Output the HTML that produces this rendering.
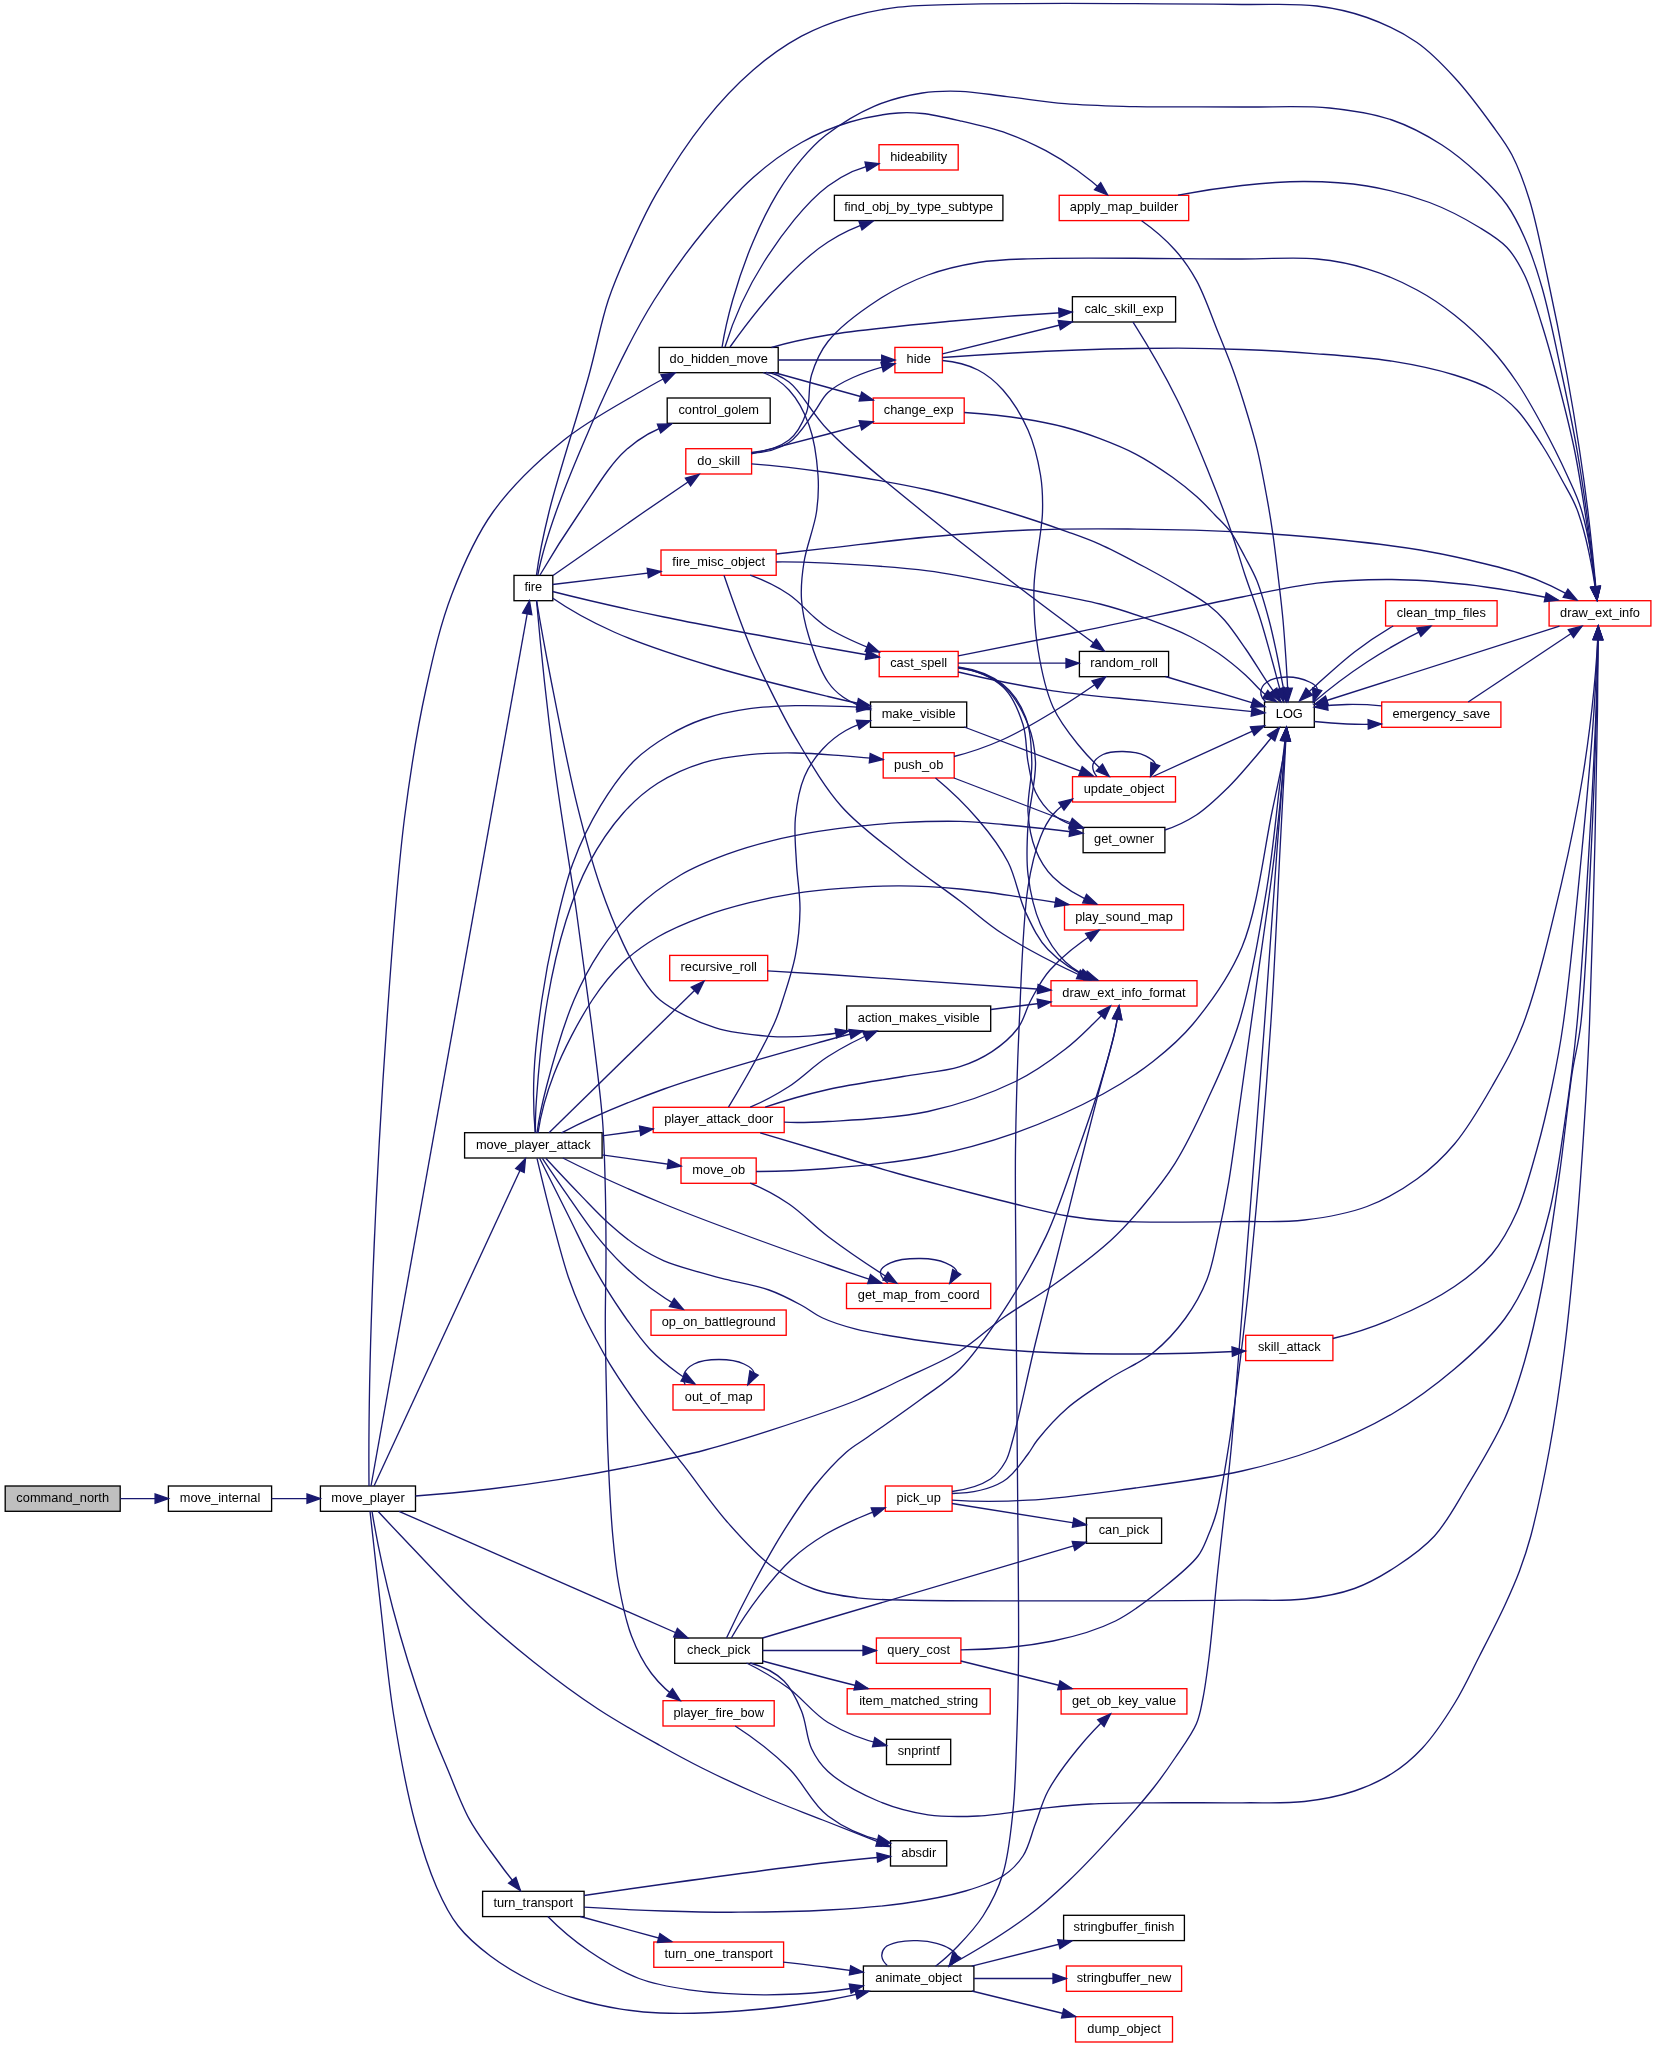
<!DOCTYPE html>
<html><head><meta charset="utf-8"><title>command_north call graph</title>
<style>html,body{margin:0;padding:0;background:#fff}svg{display:block}.e path{fill:none;stroke:#191970;stroke-width:1.33}.e polygon{fill:#191970;stroke:#191970;stroke-width:1.33}.n{will-change:transform}.n rect{stroke-width:1.33}.n text{font-family:"Liberation Sans",sans-serif;font-size:13.6px;fill:#000;text-anchor:middle}</style></head><body>
<svg width="1656" height="2048" viewBox="0 0 1656 2048">
<rect width="1656" height="2048" fill="#fff"/>
<g class="n">
<rect x="5.2" y="1486" width="115" height="25.3" fill="#bfbfbf" stroke="#000"/>
<text x="62.7" y="1501.9" textLength="92.7" lengthAdjust="spacingAndGlyphs">command_north</text>
<rect x="168.4" y="1486" width="103.2" height="25.3" fill="#fff" stroke="#000"/>
<text x="220" y="1501.9" textLength="80.6" lengthAdjust="spacingAndGlyphs">move_internal</text>
<rect x="320.4" y="1486" width="95.1" height="25.3" fill="#fff" stroke="#000"/>
<text x="368" y="1501.9" textLength="73.4" lengthAdjust="spacingAndGlyphs">move_player</text>
<rect x="514" y="575.4" width="38.8" height="25.3" fill="#fff" stroke="#000"/>
<text x="533.3" y="591.2" textLength="17.8" lengthAdjust="spacingAndGlyphs">fire</text>
<rect x="464.6" y="1132.7" width="137.5" height="25.3" fill="#fff" stroke="#000"/>
<text x="533.3" y="1148.5" textLength="114.8" lengthAdjust="spacingAndGlyphs">move_player_attack</text>
<rect x="482.6" y="1891.3" width="101.5" height="25.3" fill="#fff" stroke="#000"/>
<text x="533.3" y="1907.2" textLength="79.8" lengthAdjust="spacingAndGlyphs">turn_transport</text>
<rect x="659.2" y="347.4" width="119" height="25.3" fill="#fff" stroke="#000"/>
<text x="718.7" y="363.2" textLength="98.4" lengthAdjust="spacingAndGlyphs">do_hidden_move</text>
<rect x="667.2" y="398" width="103" height="25.3" fill="#fff" stroke="#000"/>
<text x="718.7" y="413.9" textLength="80.6" lengthAdjust="spacingAndGlyphs">control_golem</text>
<rect x="685.8" y="448.7" width="65.8" height="25.3" fill="#fff" stroke="#f00"/>
<text x="718.7" y="464.5" textLength="42.8" lengthAdjust="spacingAndGlyphs">do_skill</text>
<rect x="661" y="550" width="115.2" height="25.3" fill="#fff" stroke="#f00"/>
<text x="718.7" y="565.9" textLength="92.7" lengthAdjust="spacingAndGlyphs">fire_misc_object</text>
<rect x="669.7" y="955.4" width="98" height="25.3" fill="#fff" stroke="#f00"/>
<text x="718.7" y="971.2" textLength="76.3" lengthAdjust="spacingAndGlyphs">recursive_roll</text>
<rect x="653.2" y="1107.3" width="131" height="25.3" fill="#fff" stroke="#f00"/>
<text x="718.7" y="1123.2" textLength="109.1" lengthAdjust="spacingAndGlyphs">player_attack_door</text>
<rect x="681" y="1158" width="75.2" height="25.3" fill="#fff" stroke="#f00"/>
<text x="718.7" y="1173.9" textLength="52.8" lengthAdjust="spacingAndGlyphs">move_ob</text>
<rect x="651" y="1310" width="135.2" height="25.3" fill="#fff" stroke="#f00"/>
<text x="718.7" y="1325.9" textLength="114.1" lengthAdjust="spacingAndGlyphs">op_on_battleground</text>
<rect x="673" y="1384.7" width="91.2" height="25.3" fill="#fff" stroke="#f00"/>
<text x="718.7" y="1400.5" textLength="67.7" lengthAdjust="spacingAndGlyphs">out_of_map</text>
<rect x="674.7" y="1638" width="88" height="25.3" fill="#fff" stroke="#000"/>
<text x="718.7" y="1653.9" textLength="63.4" lengthAdjust="spacingAndGlyphs">check_pick</text>
<rect x="663" y="1700.7" width="111.2" height="25.3" fill="#fff" stroke="#f00"/>
<text x="718.7" y="1716.5" textLength="90.5" lengthAdjust="spacingAndGlyphs">player_fire_bow</text>
<rect x="653.8" y="1942" width="129.8" height="25.3" fill="#fff" stroke="#f00"/>
<text x="718.7" y="1957.9" textLength="108.4" lengthAdjust="spacingAndGlyphs">turn_one_transport</text>
<rect x="879" y="144.7" width="79.2" height="25.3" fill="#fff" stroke="#f00"/>
<text x="918.7" y="160.5" textLength="57" lengthAdjust="spacingAndGlyphs">hideability</text>
<rect x="834.4" y="195.3" width="168.5" height="25.3" fill="#fff" stroke="#000"/>
<text x="918.7" y="211.2" textLength="149" lengthAdjust="spacingAndGlyphs">find_obj_by_type_subtype</text>
<rect x="894.9" y="347.4" width="47.5" height="25.3" fill="#fff" stroke="#f00"/>
<text x="918.7" y="363.2" textLength="24.2" lengthAdjust="spacingAndGlyphs">hide</text>
<rect x="873.2" y="398" width="91" height="25.3" fill="#fff" stroke="#f00"/>
<text x="918.7" y="413.9" textLength="69.9" lengthAdjust="spacingAndGlyphs">change_exp</text>
<rect x="879.2" y="651.4" width="79" height="25.3" fill="#fff" stroke="#f00"/>
<text x="918.7" y="667.2" textLength="57" lengthAdjust="spacingAndGlyphs">cast_spell</text>
<rect x="870.5" y="702" width="96.2" height="25.3" fill="#fff" stroke="#000"/>
<text x="918.7" y="717.9" textLength="74.1" lengthAdjust="spacingAndGlyphs">make_visible</text>
<rect x="883.2" y="752.7" width="71" height="25.3" fill="#fff" stroke="#f00"/>
<text x="918.7" y="768.5" textLength="49.2" lengthAdjust="spacingAndGlyphs">push_ob</text>
<rect x="846.7" y="1006" width="144" height="25.3" fill="#fff" stroke="#000"/>
<text x="918.7" y="1021.9" textLength="121.9" lengthAdjust="spacingAndGlyphs">action_makes_visible</text>
<rect x="846.5" y="1283.3" width="144.2" height="25.3" fill="#fff" stroke="#f00"/>
<text x="918.7" y="1299.2" textLength="121.9" lengthAdjust="spacingAndGlyphs">get_map_from_coord</text>
<rect x="885.3" y="1486" width="66.8" height="25.3" fill="#fff" stroke="#f00"/>
<text x="918.7" y="1501.9" textLength="44.2" lengthAdjust="spacingAndGlyphs">pick_up</text>
<rect x="876.4" y="1638" width="84.5" height="25.3" fill="#fff" stroke="#f00"/>
<text x="918.7" y="1653.9" textLength="62.7" lengthAdjust="spacingAndGlyphs">query_cost</text>
<rect x="847.2" y="1688.7" width="143" height="25.3" fill="#fff" stroke="#f00"/>
<text x="918.7" y="1704.5" textLength="119.1" lengthAdjust="spacingAndGlyphs">item_matched_string</text>
<rect x="886.5" y="1739.3" width="64.2" height="25.3" fill="#fff" stroke="#000"/>
<text x="918.7" y="1755.2" textLength="42.1" lengthAdjust="spacingAndGlyphs">snprintf</text>
<rect x="890.5" y="1840.7" width="56.2" height="25.3" fill="#fff" stroke="#000"/>
<text x="918.7" y="1856.5" textLength="34.9" lengthAdjust="spacingAndGlyphs">absdir</text>
<rect x="863.4" y="1966" width="110.5" height="25.3" fill="#fff" stroke="#000"/>
<text x="918.7" y="1981.9" textLength="87" lengthAdjust="spacingAndGlyphs">animate_object</text>
<rect x="1059.2" y="195.3" width="129.5" height="25.3" fill="#fff" stroke="#f00"/>
<text x="1124" y="211.2" textLength="108.4" lengthAdjust="spacingAndGlyphs">apply_map_builder</text>
<rect x="1072.4" y="296.7" width="103.2" height="25.3" fill="#fff" stroke="#000"/>
<text x="1124" y="312.5" textLength="79.1" lengthAdjust="spacingAndGlyphs">calc_skill_exp</text>
<rect x="1079.4" y="651.4" width="89.2" height="25.3" fill="#fff" stroke="#000"/>
<text x="1124" y="667.2" textLength="67.7" lengthAdjust="spacingAndGlyphs">random_roll</text>
<rect x="1072.5" y="776.7" width="103" height="25.3" fill="#fff" stroke="#f00"/>
<text x="1124" y="792.5" textLength="80.6" lengthAdjust="spacingAndGlyphs">update_object</text>
<rect x="1083.1" y="827.4" width="81.8" height="25.3" fill="#fff" stroke="#000"/>
<text x="1124" y="843.2" textLength="59.9" lengthAdjust="spacingAndGlyphs">get_owner</text>
<rect x="1064.5" y="904.7" width="119" height="25.3" fill="#fff" stroke="#f00"/>
<text x="1124" y="920.5" textLength="97.7" lengthAdjust="spacingAndGlyphs">play_sound_map</text>
<rect x="1051" y="980.7" width="146" height="25.3" fill="#fff" stroke="#f00"/>
<text x="1124" y="996.5" textLength="123.3" lengthAdjust="spacingAndGlyphs">draw_ext_info_format</text>
<rect x="1086.4" y="1518" width="75.2" height="25.3" fill="#fff" stroke="#000"/>
<text x="1124" y="1533.9" textLength="50.6" lengthAdjust="spacingAndGlyphs">can_pick</text>
<rect x="1061.1" y="1688.7" width="125.8" height="25.3" fill="#fff" stroke="#f00"/>
<text x="1124" y="1704.5" textLength="104.1" lengthAdjust="spacingAndGlyphs">get_ob_key_value</text>
<rect x="1063.6" y="1915.3" width="120.8" height="25.3" fill="#fff" stroke="#000"/>
<text x="1124" y="1931.2" textLength="101" lengthAdjust="spacingAndGlyphs">stringbuffer_finish</text>
<rect x="1066.4" y="1966" width="115.2" height="25.3" fill="#fff" stroke="#f00"/>
<text x="1124" y="1981.9" textLength="94.6" lengthAdjust="spacingAndGlyphs">stringbuffer_new</text>
<rect x="1075.5" y="2016.7" width="97" height="25.3" fill="#fff" stroke="#f00"/>
<text x="1124" y="2032.5" textLength="73.4" lengthAdjust="spacingAndGlyphs">dump_object</text>
<rect x="1264.5" y="702" width="49.8" height="25.3" fill="#fff" stroke="#000"/>
<text x="1289.3" y="717.9" textLength="27.1" lengthAdjust="spacingAndGlyphs">LOG</text>
<rect x="1245.7" y="1335.3" width="87.2" height="25.3" fill="#fff" stroke="#f00"/>
<text x="1289.3" y="1351.2" textLength="62.7" lengthAdjust="spacingAndGlyphs">skill_attack</text>
<rect x="1385.6" y="600.7" width="111.5" height="25.3" fill="#fff" stroke="#f00"/>
<text x="1441.3" y="616.5" textLength="89.1" lengthAdjust="spacingAndGlyphs">clean_tmp_files</text>
<rect x="1381.7" y="702" width="119.2" height="25.3" fill="#fff" stroke="#f00"/>
<text x="1441.3" y="717.9" textLength="97.7" lengthAdjust="spacingAndGlyphs">emergency_save</text>
<rect x="1549.1" y="600.7" width="101.8" height="25.3" fill="#fff" stroke="#f00"/>
<text x="1600" y="616.5" textLength="79.9" lengthAdjust="spacingAndGlyphs">draw_ext_info</text>
</g>
<g class="e">
<path d="M120.2 1498.6L168.4 1498.6"/><polygon points="168.4,1498.6 155.1,1503.3 155.1,1493.9"/>
<path d="M271.6 1498.6L320.3 1498.6"/><polygon points="320.3,1498.6 307,1503.3 307,1493.9"/>
<path d="M369 1486C368.5 1431.3 369.5 1369.3 372 1300C375.1 1211.9 382.1 1087.5 388.4 1000C393.3 931.7 397.5 873.3 404.5 818C410.5 771.2 417.3 728.5 426 689C433.5 654.7 440.5 624 452 594C463.1 565.1 475 537.1 493 512C511.9 485.6 538.7 460.4 564 440C587.9 420.8 619.4 404.1 640 392C653.7 383.9 665.4 377.6 675 373"/><polygon points="675,373 665.3,383.2 661,374.9"/>
<path d="M371 1486L529.5 600.8"/><polygon points="529.5,600.8 531.8,614.7 522.6,613"/>
<path d="M374 1486L525.5 1158.5"/><polygon points="525.5,1158.5 524.2,1172.5 515.7,1168.6"/>
<path d="M415.4 1496C440.7 1494.2 465.6 1491.8 490 1489C513.7 1486.2 535.9 1483.1 560 1479.3C585.8 1475.2 614.7 1470 640 1464.8C662.9 1460.1 683.6 1455.7 705.2 1450C727 1444.2 747.2 1437.9 770.4 1430.4C797.4 1421.6 833.2 1409.8 857.4 1400C875.2 1392.8 887 1386.6 903 1379C921 1370.4 942.8 1361.7 960 1351C975.9 1341.1 988 1328.7 1003 1318C1018.7 1306.9 1035.5 1297.8 1052.4 1285.8C1071.2 1272.4 1094.3 1255.3 1110.4 1240.7C1123.3 1229 1132.3 1218.7 1142.7 1206.3C1153.8 1193 1164.9 1179.4 1175 1163.3C1186.5 1144.9 1196.8 1123.3 1207 1101C1218.3 1076.3 1230.2 1052 1239.4 1021.5C1251.1 983 1260.1 928.6 1267 887C1272.9 851.3 1276 816 1279.5 787C1282.2 764.6 1284.5 744.8 1286.5 727.5"/><polygon points="1286.5,727.5 1289.6,741.2 1280.4,740.2"/>
<path d="M399 1511.3L687.8 1638"/><polygon points="687.8,1638 673.7,1636.9 677.4,1628.4"/>
<path d="M378 1511.3C383.2 1517 390.5 1524.8 400 1534.7C416.9 1552.4 447.6 1585.9 471 1608C492 1627.8 512.1 1644.8 533.4 1661.7C554.4 1678.4 576.3 1694.7 598 1709C618.5 1722.5 641.2 1735 660 1745.5C675.3 1754.1 686.6 1760.3 702 1768C720.2 1777.1 742.1 1787.3 762.3 1796C782.3 1804.6 802 1811.8 822.7 1820C844.5 1828.6 867 1837.5 890 1846.5"/><polygon points="890,1846.5 875.9,1846 879.3,1837.3"/>
<path d="M372 1511.3C377.2 1542.9 384.1 1575.1 392.7 1608C401.9 1643.1 415.5 1686 426 1715.5C433.5 1736.6 440.2 1751.6 447.5 1769C454.6 1785.9 461.2 1804.1 469 1818.6C475.6 1830.9 482.5 1839.8 490.4 1851C499.4 1863.7 509.4 1876.9 520.5 1890.6"/><polygon points="520.5,1890.6 508.6,1883.1 515.9,1877.3"/>
<path d="M370 1511.3C373.4 1542.7 377 1574.9 380.8 1608C384.8 1642.9 388 1679.8 393.7 1715.5C399.4 1751.4 406.9 1792 415.2 1823C421.7 1847.4 428.6 1869 436.7 1887.4C443.2 1902.3 449.2 1914.6 458.2 1926C467.1 1937.4 478.4 1946.9 490.4 1956C503.3 1965.7 518.8 1974.7 533.4 1982C547.4 1989 561.9 1994.5 576.4 1999C590.6 2003.4 605.2 2006.5 619.4 2008.8C633.1 2011.1 644.2 2012.4 660 2013C682 2013.9 711.9 2013 739 2011C767.8 2008.9 804.1 2004 828 2000C844.4 1997.2 858 1994.3 869 1991.2"/><polygon points="869,1991.2 857.2,1999 855,1990"/>
<path d="M536.5 575.2C538.7 558 542.9 536.9 549 512C558.1 474.9 578.3 413.9 589 375C596.9 346.3 600.6 323.2 608.3 300C615.3 279 624.1 259.9 632.5 241.5C640.3 224.5 646.5 210.6 656.6 193.2C669.4 171.1 687.9 142.2 705 120.8C720.3 101.6 736.4 84.5 753.2 70C768.6 56.7 784.9 45.2 801.5 36.2C817.2 27.8 833.6 21.8 849.9 16.9C865.8 12.2 881 9.3 898.2 7.2C917.4 4.8 931.9 4.9 960 4.3C1019.9 2.9 1178 3.8 1242 4.5C1275 4.8 1294.7 3.2 1317 6C1335.5 8.3 1350.7 11.6 1367 17.5C1384 23.6 1402.2 32.2 1417 42.5C1431.2 52.4 1442.5 64.4 1454.5 77.5C1467.6 91.7 1481.7 110.8 1492 125C1500 136 1506.1 143.6 1512 155C1518.8 168.2 1524.2 182.9 1529.5 200C1536.2 221.6 1541.2 248.2 1547 275C1553.7 305.9 1561.3 344 1567 375C1571.9 401.8 1575.9 426.2 1579.5 450C1582.8 471.6 1585.3 489.5 1588 512C1591.2 538.7 1594.2 568.1 1597 600"/><polygon points="1597,600 1591.2,587.2 1600.5,586.3"/>
<path d="M537.8 575.2C541.1 557.9 547.2 536.8 556 512C569.2 474.7 595.6 413.5 614 375C627.9 345.9 639.1 324.1 654.2 300C669.4 275.6 687.6 250.7 705 229.5C720.7 210.3 736.4 192.4 753.2 177.5C768.6 163.8 784.8 151.9 801.5 142.5C817.1 133.7 833.5 126.9 849.9 122C865.8 117.2 884.8 114.1 898.2 113C907.6 112.2 913.4 112.6 922.3 113.5C933.5 114.7 946.8 117.8 960 120.8C974.9 124.2 992.3 128.1 1007 133.3C1020.8 138.2 1033.8 144.3 1045.8 150.7C1056.9 156.6 1066.6 162.8 1076.7 170C1087.2 177.5 1097.5 185.8 1107.6 195"/><polygon points="1107.6,195 1094.5,189.8 1100.7,182.7"/>
<path d="M540 575C552.5 553.7 565.8 532.7 580 512C594.4 491 609 465.1 626 450C640 437.6 655.2 428.9 671.5 424"/><polygon points="671.5,424 660.7,433 657.4,424.2"/>
<path d="M553 575.5C587.1 551.5 617.4 530.3 644 512C664.6 497.8 682.9 485.3 699 474.5"/><polygon points="699,474.5 690.6,485.8 685.4,478.1"/>
<path d="M552.5 584.5L661 571.5"/><polygon points="661,571.5 648.4,577.7 647.2,568.4"/>
<path d="M552.5 591.5C586 600 623.2 608.5 664 617C713.3 627.3 788.8 640.8 828 648C849.9 652 867 655 879.2 657"/><polygon points="879.2,657 865.4,659.4 866.9,650.2"/>
<path d="M552.5 598C570 610.2 590.5 621.5 614 632C642.8 644.9 679.3 656.5 714 667C750.5 678.1 799.1 689.6 828 696.5C845.5 700.7 859.7 703.8 870.5 705.8"/><polygon points="870.5,705.8 856.5,707.7 858.4,698.6"/>
<path d="M536.5 600.2C541.3 655.3 547.2 709.2 554 762C560.6 813 569.9 865.6 576.5 912C582.2 952 587 988.1 591.5 1024C595.6 1057.2 600.2 1090.7 602.5 1120C604.4 1144.7 604.7 1165.6 605.3 1188.4C605.9 1211.2 606 1233.9 606 1256.7C606 1279.5 605.2 1301.7 605.3 1325C605.4 1349.4 606.1 1377.7 606.6 1400C607 1418.1 607 1430.3 607.8 1449C608.8 1473.9 610.5 1511 612.8 1536C614.5 1555 615.9 1569.4 619 1586C622.1 1602.8 625.7 1620.9 631.5 1636C636.8 1649.8 643.2 1662.6 651.5 1673.5C659.5 1684 669.1 1693 680.2 1700.5"/><polygon points="680.2,1700.5 666.8,1696.2 672.5,1688.7"/>
<path d="M536.5 600.2C540.4 623.8 545.2 650.4 551 680C558.3 717.3 568.2 769 577.4 806.2C584.8 836.1 592 862.2 600.3 886.5C607.5 907.4 615.9 928 623.3 943.9C628.8 955.6 633.2 964.3 639.3 973.7C645.4 983 650.3 992.1 660 1000C673.2 1010.8 696.3 1021.7 715 1027.7C732.6 1033.4 752 1035 769 1036.3C784.1 1037.4 798.2 1036.9 812 1035.9C824.8 1035 837.2 1033.4 849 1031"/><polygon points="849,1031 836.7,1037.9 835.1,1028.7"/>
<path d="M535.2 1132.8C533.6 1114.3 533.1 1094.7 534 1074C535 1050.7 538.3 1024 541.8 1000C545.2 976.9 549.3 954.9 554.4 932.4C559.6 909.5 564.8 885.1 572.8 863.6C580.3 843.2 589.6 823.8 600.3 806.2C610.4 789.5 622.2 772.6 634.7 760.3C645.5 749.7 657.4 742 669.2 735C680.4 728.4 691.1 723.3 703.6 719C717.6 714.2 734.1 710.9 749.5 708.7C764.7 706.5 780.1 706.1 795.4 705.7C810.7 705.3 827.7 705.9 841.3 706.4C852.1 706.8 861.9 707.3 870.5 708"/><polygon points="870.5,708 856.9,711.8 857.5,702.5"/>
<path d="M535.5 1132.8C535.2 1124.4 535.5 1113.2 536.5 1099C538.2 1074.6 542.2 1031 547.5 1000C552.3 972 558.4 945 565.9 921C572.5 900.1 579.2 881.6 588.8 863.6C598.4 845.6 610.8 827 623.3 813C634 801 644.7 791.6 657.7 783.3C671.3 774.6 688 767.4 703.6 762.6C718.6 758 734.1 756.2 749.5 754.6C764.7 753 780.1 752.8 795.4 753C810.7 753.2 826.4 754.6 841.3 755.7C855.5 756.8 869.4 758 883 759.5"/><polygon points="883,759.5 869.3,762.8 870.2,753.5"/>
<path d="M537 1132.8C538.7 1119.6 541.9 1104.2 546.5 1086.5C552.9 1062 563.7 1024.4 574 1000C582.1 980.9 590.1 966 600.3 950.8C610.3 935.9 621.6 922 634.7 909.5C648.2 896.6 664.8 884.3 680.6 875C695.4 866.2 711 860.2 726.5 854.4C741.6 848.8 757 844.4 772.4 840.6C787.6 836.8 803 833.9 818.3 831.4C833.6 828.9 849.8 827.2 864.2 825.7C876.9 824.4 886.5 823.4 900 822.7C917.4 821.8 941.7 820.9 960 821.4C975.5 821.8 986.5 823 1003 824.5C1025.6 826.5 1052.2 829.5 1083 833.2"/><polygon points="1083,833.2 1069.2,836.3 1070.4,827"/>
<path d="M538 1132.8C540.8 1113.9 546.1 1094.3 554 1074C563.2 1050.3 579.1 1020 592.3 1000C602.4 984.7 612 972.9 623.3 962.2C633.9 952.2 645 944.4 657.7 937C671.5 928.9 688.1 922.1 703.6 916.3C718.7 910.7 734.1 906.4 749.5 902.6C764.7 898.8 780 895.8 795.4 893.4C810.6 891 825 889.6 841.3 888.4C859.6 887 880.3 885.7 900 885.8C919.9 885.9 939.7 887.1 960 889C981.2 891 1005.1 894.9 1024.5 897.7C1040.6 900 1055.2 902.3 1068.5 904.5"/><polygon points="1068.5,904.5 1054.6,907 1056.1,897.8"/>
<path d="M549 1132.8L704 981.2"/><polygon points="704,981.2 697.8,993.9 691.2,987.2"/>
<path d="M561.5 1132.8C591.2 1117.5 625.4 1103 664 1089C711.8 1071.7 793.4 1049.6 828 1040C843.9 1035.6 855.6 1032.6 863 1031"/><polygon points="863,1031 851.1,1038.6 849,1029.5"/>
<path d="M602 1135.8L653.2 1129"/><polygon points="653.2,1129 640.7,1135.4 639.5,1126.1"/>
<path d="M602 1154.8L681 1166"/><polygon points="681,1166 667.2,1168.7 668.5,1159.5"/>
<path d="M562.8 1158C592.1 1172.9 625.9 1188.3 664 1204C711.8 1223.7 788.1 1250.8 828 1265C850.7 1273.1 868.6 1279.2 881.8 1283.2"/><polygon points="881.8,1283.2 867.7,1283.6 870.5,1274.7"/>
<path d="M545.8 1158.3C558.6 1172.2 570.7 1185 582 1196.6C591.7 1206.6 600 1215.6 609.4 1224C618.3 1232 627.3 1239.5 636.7 1245.8C645.6 1251.7 654 1256.5 664 1260.8C675 1265.5 688.9 1269.1 700 1272.4C709.3 1275.2 716.2 1276.9 726 1279.4C738.5 1282.6 755.9 1285.4 769 1290C780.7 1294.1 791.5 1299.9 801 1305C809.1 1309.3 814.5 1314.2 822.7 1318C832.2 1322.4 841.9 1325.5 855 1328.8C874.3 1333.7 901.7 1337.9 928 1341.5C958.6 1345.7 994.6 1349.4 1028 1351.5C1061.3 1353.6 1093.3 1354 1128 1354C1165.6 1354 1204.8 1353 1245.5 1351"/><polygon points="1245.5,1351 1232.4,1356.3 1232,1346.9"/>
<path d="M542.4 1158.3C550.9 1171.1 559.5 1183.9 568.4 1196.6C577.3 1209.4 586.3 1223.1 595.7 1234.8C604.5 1245.7 613.6 1255.9 623 1265C631.8 1273.5 640.6 1280.8 650.4 1288C660.6 1295.6 671.6 1302.7 683.2 1309.3"/><polygon points="683.2,1309.3 669.4,1306.5 674.2,1298.5"/>
<path d="M539.6 1158.3C549.3 1177.7 558.9 1196.8 568.4 1215.7C577.6 1234.1 586.2 1253.4 595.7 1270.4C604.4 1286 613.6 1300.4 623 1314C631.8 1326.7 640.7 1339.5 650.4 1349.7C659.1 1358.8 669.5 1366.9 677.7 1373C683.9 1377.6 689.6 1381.2 694.8 1383.8"/><polygon points="694.8,1383.8 681,1381 685.8,1373"/>
<path d="M537 1158.3C543.1 1184.4 549 1208.1 554.7 1229.4C559.4 1247 563.5 1262.7 568.4 1277.2C572.7 1289.7 577.2 1300.7 582 1311.4C586.4 1321.1 591 1329.9 595.7 1338.7C600.2 1347.2 603.7 1354 609.4 1363.3C617.4 1376.3 628.6 1392.9 640 1408.7C653 1426.7 669 1446.4 683.5 1465.2C698 1484 711.9 1504.5 727 1521.7C741 1537.6 755.1 1553.7 770.4 1565.2C784.2 1575.5 799 1583.6 813.9 1589C828 1594.2 842.8 1596 857.4 1597.8C871.8 1599.6 879.5 1599.5 900.9 1600C960.7 1601.5 1173.8 1600.9 1242 1600.2C1271.2 1600 1284.9 1601.2 1304.5 1599C1322.2 1597 1338.9 1594.1 1354.5 1588.5C1369.7 1583 1383.7 1574.8 1397 1566C1410.3 1557.3 1423.3 1548.3 1434.5 1536C1446.9 1522.3 1456.1 1504.5 1467 1486.5C1479.4 1466 1494.6 1441 1504.5 1419C1513.3 1399.5 1518.5 1382.1 1524.5 1361.5C1531.2 1338.3 1536.6 1314.1 1542 1286.5C1548.5 1252.9 1554.4 1210.4 1559.5 1174C1564.3 1139.7 1567.9 1101.6 1572 1074C1574.9 1054.4 1578.2 1046 1580.8 1024C1585.7 982 1589 895.4 1591.7 839.4C1594 792.6 1595.4 748.8 1596.5 710.4C1597.4 679.4 1598 651.3 1598.2 626.2"/><polygon points="1598.2,626.2 1602.8,639.6 1593.4,639.5"/>
<path d="M584 1895.5C692 1879.8 773.3 1868.8 828 1862.5C855.6 1859.3 876.5 1857.3 890.5 1856.5"/><polygon points="890.5,1856.5 877.6,1862.1 876.9,1852.8"/>
<path d="M584 1907.2C611.1 1908.9 637.8 1910.2 664 1911C689.4 1911.8 712.9 1912.4 739 1912.2C767.4 1912.1 799.6 1911.6 828 1910C854.1 1908.5 879.2 1906.9 903 1903.5C924.9 1900.4 947.5 1896.3 965.5 1891C979.8 1886.7 993 1882.6 1003 1876C1011.4 1870.5 1017.7 1864.1 1023 1856C1028.9 1847 1031.3 1834.3 1035.5 1823.5C1039.7 1812.7 1042 1802.2 1048 1791C1055.3 1777.3 1067.3 1761.6 1078 1748.5C1088.2 1736 1099 1724.5 1110.5 1714"/><polygon points="1110.5,1714 1104.1,1726.6 1097.7,1719.8"/>
<path d="M580.2 1916.5L671.5 1941.5"/><polygon points="671.5,1941.5 657.4,1942.5 659.9,1933.5"/>
<path d="M547.8 1916.5C560.3 1929.3 574.1 1940.8 589 1951C604.4 1961.5 621.9 1972 639 1978.5C655.2 1984.7 670.5 1987.1 689 1989.8C711.4 1993 740 1994.6 764 1994.8C786.2 1994.9 809.9 1993.4 828 1991.5C841.5 1990.1 853.3 1988.3 863.2 1986"/><polygon points="863.2,1986 851.1,1993.1 849.3,1984"/>
<path d="M722 347.5C724.4 332.3 728 316.5 732.7 300C738 281.4 745.4 259.8 753.2 241.5C760.5 224.4 768.7 207.6 777.4 193.2C785 180.6 793 169.4 801.5 159.4C809.2 150.3 815.7 143.1 825.7 135.3C838.6 125.3 857.4 113.4 874 106.3C889.7 99.6 907.1 95.4 922.3 93C935.5 90.9 946.8 90.9 960 91.3C974.8 91.8 990.5 94.7 1007 96.6C1025.3 98.7 1045.6 102 1065 103.6C1084.3 105.2 1100.2 105.7 1123 106.3C1155.6 107.2 1205.4 106.7 1242 107C1273.4 107.3 1302.9 105.3 1329.5 108C1352.2 110.3 1372.7 113.5 1392 120C1410 126.1 1427 135.4 1442 145C1455.9 153.9 1468.3 164.6 1479.5 175C1489.8 184.6 1499.4 194.3 1507 205C1514.2 215.2 1519.1 225.3 1524.5 237.5C1531 252.2 1536.5 268.3 1542 287.5C1549.2 312.4 1556 346.9 1562 375C1567.6 400.9 1572.8 426.1 1577 450C1580.8 471.6 1583.4 489.5 1586.5 512C1590.1 538.7 1593.6 568.1 1597 600"/><polygon points="1597,600 1590.9,587.3 1600.2,586.3"/>
<path d="M725 347C734.2 316.8 747.2 288.5 764 262C781.3 234.7 805.9 202.5 828 186C844.6 173.6 861.6 166.2 879 163.8"/><polygon points="879,163.8 867,171.2 865,162.1"/>
<path d="M730 347C750.9 317.7 770.6 293.7 789 275C802.7 261.1 813.9 251 828 242C841.9 233.1 856.9 226.2 873 221.2"/><polygon points="873,221.2 862,230 858.9,221.2"/>
<path d="M771.5 347.5C786.5 342.9 805.4 338.8 828 335C861.4 329.5 911.8 324.9 953 321C993.2 317.2 1032.9 314.2 1072.2 312"/><polygon points="1072.2,312 1059.2,317.4 1058.7,308.1"/>
<path d="M778.2 360L895 360"/><polygon points="895,360 881.7,364.7 881.7,355.3"/>
<path d="M774 372.5C792.8 377.7 810.8 382.7 828 387.5C843.7 391.9 858.8 396 873.2 400"/><polygon points="873.2,400 859.2,401 861.7,392"/>
<path d="M763 372.5C773 376.2 781.6 382.1 789 390C797.3 399 804.2 411.8 809 425C814.4 439.8 816.9 459.5 818 475C818.9 488.2 818.4 498.8 816.5 512C814.3 527.5 806.4 546.4 804 562C801.9 575.3 800.7 587.1 801.5 599.5C802.3 612.1 805 624.1 809 637C813.5 651.5 820.9 671.5 828 682C832.7 688.9 836.8 692.7 843 697C850.4 702.1 859.6 706.3 870.5 709.5"/><polygon points="870.5,709.5 856.4,709.5 859.5,700.7"/>
<path d="M766 372.5C773.4 373 781.1 376.1 789 382C801.4 391.3 811.2 412.7 828 430C851.9 454.7 885.7 481.7 923 512C973.2 552.9 1033.7 599.1 1104.2 650.8"/><polygon points="1104.2,650.8 1090.8,646.6 1096.3,639.1"/>
<path d="M751.5 453C766.1 452.7 778.6 449.2 789 442.5C799.4 435.7 807 421.6 814 412.5C819.5 405.3 821.9 398.2 828 392.5C834.6 386.3 843.3 381.9 853 377.5C864.9 372 878.9 367.5 895 363.8"/><polygon points="895,363.8 883.3,371.6 881,362.5"/>
<path d="M751.5 452.5C767.2 451.4 779.7 447.3 789 440C797.5 433.4 802.7 422.8 806.5 412.5C810.6 401.4 807.9 386.9 811.5 375C815.1 363.2 819.4 352.4 828 341.5C839.3 327.2 860.7 311.3 878 300C894.1 289.5 911 281.3 928 275C944.3 269 961.2 265.2 978 262.5C994.6 259.8 1005.5 259.6 1028 258.8C1074.5 257 1188.9 259 1242 259C1273.4 259 1294.6 256.8 1317 259C1335.4 260.8 1350.6 263.7 1367 268.8C1383.9 273.9 1401.9 281.8 1417 290C1430.8 297.4 1442.4 305.4 1454.5 315C1467.4 325.2 1481.2 338.1 1492 350C1501.7 360.6 1509 370.7 1517 382.5C1525.8 395.5 1533.9 410.1 1542 425C1550.6 440.9 1560 459.5 1567 475C1572.9 488.1 1577.7 496.7 1582 512C1588.5 534.8 1593.5 564.1 1597 600"/><polygon points="1597,600 1590.9,587.3 1600.2,586.3"/>
<path d="M751.5 453.8C780.3 446.4 805.8 439.9 828 434C845.1 429.5 860.2 425.4 873.2 421.8"/><polygon points="873.2,421.8 861.7,429.8 859.2,420.8"/>
<path d="M751.5 463.8C775.4 465.7 800.9 468.6 828 472.5C859.2 477 896.7 483 928 490C956.3 496.4 983.4 504.5 1008 512C1029.4 518.5 1050.7 525.8 1067.5 531.8C1080 536.3 1088.2 539.1 1100 544.3C1114.7 550.8 1133.4 561 1148.3 569C1161.3 576 1173.7 583 1184.5 589.6C1193.5 595.1 1201.7 599.8 1208.7 605.3C1214.7 610 1219.1 614 1224.4 620C1231.3 627.8 1238.8 639 1245.7 649C1252.8 659.2 1259.9 671.3 1266.2 680.7C1271.4 688.4 1276.2 695.4 1280.7 701.6"/><polygon points="1280.7,701.6 1269.2,693.4 1276.8,688"/>
<path d="M776.2 554C790.7 552.4 807.9 550.5 828 548.2C855.9 545.1 894.6 540 928 537C961.3 534 994.6 531.3 1028 530C1061.3 528.7 1093.6 528.7 1128 529C1164.8 529.3 1205.3 530 1242 532C1276.5 533.8 1310.8 536.8 1342 540C1369.6 542.9 1397 546.2 1420 550C1438.3 553 1452.8 556.2 1469.2 560C1485.7 563.8 1504.1 568.2 1518.7 573C1530.7 577 1541 581.1 1551 585.8C1560.3 590.2 1568.9 594.9 1577 600"/><polygon points="1577,600 1563.2,597.3 1567.9,589.2"/>
<path d="M776.2 562C790.7 561.8 807.9 562.3 828 563.2C855.9 564.6 894.8 566.4 928 570.8C961.5 575.1 997.4 583.6 1028 589.5C1054 594.6 1078.5 598.5 1100 604C1117.8 608.6 1132.8 613.6 1148.3 619.2C1163.1 624.6 1178.5 630.7 1191 637C1201.4 642.2 1209.5 647.1 1218.4 653.3C1227.7 659.8 1237.7 668.1 1245.7 675.2C1252.5 681.3 1257.8 688.3 1263.5 693C1268 696.7 1272.3 699.5 1276.4 701.6"/><polygon points="1276.4,701.6 1262.7,698.3 1267.8,690.5"/>
<path d="M750.2 575.2C765 580.6 777.9 587 789 594.5C798.8 601.1 806.8 610.9 814 617C819.3 621.4 821.6 624 828 628C839.5 635.1 856.6 643.1 879.2 652"/><polygon points="879.2,652 865.2,651.3 868.7,642.7"/>
<path d="M724 575.2C734.4 605.5 743.5 630.3 751.5 649.5C756.7 662 759.8 668.3 765.5 680C773.4 696.2 783.8 717.7 795.4 737.4C808.6 759.6 823.5 786.1 841.3 806.2C858.5 825.7 880 840.8 900 856.7C919.6 872.3 941.7 887.2 960 901C975.6 912.7 985.6 922.8 1003 934C1026.5 949.1 1055.7 964.4 1090.5 980"/><polygon points="1090.5,980 1076.5,978.7 1080.3,970.2"/>
<path d="M767.5 970.8C781.3 971.5 801.5 972.8 828 974.5C878.9 977.8 953.3 983 1051 990"/><polygon points="1051,990 1037.4,993.7 1038.1,984.4"/>
<path d="M728.5 1107.2C750 1071.4 765.1 1043.6 774 1024C778.6 1013.8 779.7 1009.3 782.7 1000C786.7 987.5 792.5 970.5 795.4 955.4C798.3 940.3 799.8 924.8 800 909.5C800.2 894.2 797.3 878.9 796.5 863.6C795.7 848.3 794 832.5 795.4 817.7C796.8 803.5 799.4 788.4 804.5 776.4C809 765.8 815.7 756.6 822.9 748.8C829.6 741.5 837.6 735.2 845.8 730.5C853.6 726 861.8 722.8 870.5 720.8"/><polygon points="870.5,720.8 859.2,729.2 856.4,720.2"/>
<path d="M750.2 1107.2C763.5 1101.6 776.4 1094.6 789 1086.5C802.3 1077.9 813.8 1065.5 828 1056.5C843 1046.9 859.4 1038.4 877 1031"/><polygon points="877,1031 866.7,1040.7 862.9,1032.1"/>
<path d="M765.2 1107.2C785.1 1100.4 806 1094.5 828 1089.5C851.8 1084.1 879.7 1080.5 903 1076.5C923.3 1073 944 1071.6 960 1066.6C972.5 1062.7 982.3 1058 992 1051.6C1001.6 1045.2 1011.4 1036.9 1018 1028C1024.2 1019.6 1025.9 1009.3 1031 1000C1036.5 990 1041.1 980 1050 970C1061.9 956.6 1078.3 943.3 1099.2 930"/><polygon points="1099.2,930 1090.8,941.2 1085.6,933.5"/>
<path d="M784.2 1122.2C795.9 1122.8 810.5 1122.5 828 1121.5C854.6 1119.9 896.2 1118.5 928 1111.5C958.5 1104.8 991 1093.4 1015.5 1081.5C1035.2 1071.9 1051.7 1059.7 1065.5 1049C1076.4 1040.6 1085 1031.8 1093 1024C1099.6 1017.6 1105.4 1011.6 1110.5 1006"/><polygon points="1110.5,1006 1104.8,1018.9 1098,1012.5"/>
<path d="M760.2 1132.8C782.3 1139.4 804.8 1146.1 828 1153C852.4 1160.2 879.7 1168.5 903 1175C923.3 1180.6 940.4 1184.9 960 1190C980.8 1195.4 1005.1 1201.7 1024.5 1206.3C1040.3 1210.1 1053.1 1213.5 1067.5 1216C1081.7 1218.4 1092.2 1219.9 1110.4 1221C1142.2 1222.9 1206.2 1221.9 1242 1221.5C1266.7 1221.3 1283.8 1222.5 1304.5 1220C1325.5 1217.5 1347.8 1213.7 1367 1206.5C1385.1 1199.7 1402.1 1189.8 1417 1179C1431.1 1168.8 1442.8 1157.9 1454.5 1144C1468.1 1127.9 1480.6 1106.4 1492 1086.5C1503.5 1066.4 1513.5 1049.6 1523.2 1024C1537.4 986.9 1551.4 926.5 1561.7 882.4C1570.6 844.3 1577.5 808.9 1583 775C1587.9 744.8 1591.4 715.4 1594 689C1596.2 666.5 1597.6 645.6 1598.2 626.2"/><polygon points="1598.2,626.2 1602.4,639.7 1593,639.3"/>
<path d="M756.2 1171.5C778.2 1171.6 802.1 1170.6 828 1168.5C858.6 1166 896 1162.7 928 1156.5C958.4 1150.6 986.7 1143 1015.5 1132.8C1045.1 1122.3 1078.3 1107.4 1103 1094C1122.5 1083.4 1137.7 1073.5 1153 1061.5C1167.6 1050 1180 1039.7 1193 1024C1209.8 1003.7 1229.3 977.5 1242 947C1257.6 909.4 1264.3 848.5 1272 812C1277.2 787.2 1282.2 765.1 1284.5 749.5C1285.8 740.3 1286.5 733 1286.5 727.5"/><polygon points="1286.5,727.5 1290.3,741.1 1281,740.5"/>
<path d="M750.2 1183.2C763.6 1188.6 776.5 1195.6 789 1204C802.5 1213.1 812.8 1225.1 828 1236.5C847.4 1251.1 870.3 1266.7 896.8 1283.2"/><polygon points="896.8,1283.2 883,1280.1 888,1272.2"/>
<path d="M685.2 1384.8C683.3 1380.9 682.9 1377.3 684 1374C685.3 1370.3 689.4 1366.4 694 1364C700.1 1360.8 710.7 1359.5 719 1359.5C727.3 1359.5 737.8 1361 744 1364C748.5 1366.1 753.4 1369.3 754 1372.8C754.7 1376.2 752.6 1380.2 747.8 1384.8"/><polygon points="747.8,1384.8 749.9,1370.8 758.2,1375.2"/>
<path d="M726.5 1638C734.9 1619.9 743.8 1602.1 753 1584.8C762.1 1567.8 771.2 1551.1 781.3 1534.8C791.5 1518.5 802.5 1501.3 813.9 1487C824.3 1474 836.4 1460.9 846.5 1452C854 1445.5 859.1 1443.2 867.8 1437C881.8 1427.1 906.2 1410.2 922.6 1398C936.4 1387.8 947.9 1381.3 960 1369C974.9 1353.9 989.3 1332.5 1003 1311.6C1018.1 1288.6 1033.6 1262.8 1046 1236.4C1058.7 1209.2 1068.5 1177.1 1078 1150.4C1086.1 1127.5 1093.4 1106.6 1099.7 1086C1105.4 1067.3 1111.4 1046.8 1114.7 1032C1116.9 1021.8 1118.4 1013.2 1119 1006"/><polygon points="1119,1006 1121.9,1019.8 1112.6,1018.6"/>
<path d="M731.3 1638C739.9 1623.1 749.4 1609 759.6 1595.7C769.7 1582.6 780.7 1569.2 792.2 1558.7C802.6 1549.2 813.6 1541.6 824.8 1534.8C835.4 1528.3 846.9 1523.2 857.4 1518.5C866.9 1514.3 876.2 1510.7 885.2 1507.8"/><polygon points="885.2,1507.8 874.3,1516.6 871.2,1507.8"/>
<path d="M762.5 1638C777.1 1633.6 799 1627.1 828 1618.5C885.7 1601.4 971.7 1576 1086.2 1542.2"/><polygon points="1086.2,1542.2 1074.8,1550.5 1072.2,1541.5"/>
<path d="M762.5 1650.5L876.2 1650.5"/><polygon points="876.2,1650.5 863,1655.2 863,1645.8"/>
<path d="M762.5 1661C787 1667.7 808.8 1673.5 828 1678.5C843 1682.4 856.3 1685.7 868 1688.5"/><polygon points="868,1688.5 854,1689.9 856.2,1680.8"/>
<path d="M746.5 1663C761.4 1670.2 775.5 1678.7 789 1688.5C802.7 1698.5 812.8 1713.2 828 1722.5C844.8 1732.7 864.3 1740.4 886.5 1745.5"/><polygon points="886.5,1745.5 872.5,1746.7 874.8,1737.6"/>
<path d="M750.2 1663C764.1 1666.7 775.4 1672.7 784 1681C792.2 1688.9 797 1700.1 801.5 1711C806.3 1722.5 806.5 1737.9 811.5 1748.5C815.8 1757.6 820 1764.2 828 1771.5C839.5 1782 860.8 1793.7 878 1801C894.2 1807.9 911.2 1812.3 928 1814.8C944.5 1817.2 960.4 1816.8 978 1816C997.7 1815.1 1020.8 1810.6 1040.5 1808.5C1058.1 1806.7 1072.9 1805 1090.5 1804C1110.2 1802.9 1130.3 1803 1153 1802.8C1180.1 1802.5 1214.9 1803 1242 1802.8C1264.7 1802.5 1284.9 1803.7 1304.5 1801.5C1322.2 1799.5 1339.3 1796.1 1354.5 1791C1368.2 1786.4 1380.6 1780.7 1392 1773.5C1403.1 1766.5 1412.4 1758.8 1422 1748.5C1433.4 1736.3 1444.9 1719.1 1454.5 1703.5C1464 1688.2 1471.2 1672.1 1479.5 1656C1487.9 1639.6 1497.4 1621.3 1504.5 1606C1510.3 1593.4 1515.1 1582.8 1519.5 1571C1523.8 1559.4 1526.9 1550.4 1530.8 1536C1536.7 1513.6 1544 1479.1 1549.5 1449C1555.4 1416.9 1560.1 1384.2 1564.5 1349C1569.4 1309.7 1573.5 1265.7 1577 1224C1580.5 1182.4 1583.6 1135.4 1585.8 1099C1587.4 1070.8 1588.3 1054.5 1589.5 1024C1591.4 976.1 1593.6 895.4 1595 839.4C1596.2 792.6 1597 748.8 1597.5 710.4C1597.9 679.4 1598.2 651.3 1598.2 626.2"/><polygon points="1598.2,626.2 1602.9,639.6 1593.5,639.5"/>
<path d="M735.2 1726C755.3 1738.9 773.2 1753 789 1768.5C803.9 1783.2 811.7 1803.7 828 1816C845.2 1828.9 866 1837.9 890.5 1843"/><polygon points="890.5,1843 876.5,1844.4 878.7,1835.3"/>
<path d="M783.2 1962.2C799.1 1964 814 1965.7 828 1967.5C840.5 1969.1 852.2 1970.7 863.2 1972.2"/><polygon points="863.2,1972.2 849.4,1975 850.7,1965.8"/>
<path d="M942.5 353.8L1072.2 322"/><polygon points="1072.2,322 1060.4,329.7 1058.2,320.6"/>
<path d="M942.5 357.5C991.1 354 1036.2 351.5 1078 350C1113.8 348.7 1148.4 348.2 1178 348.2C1201.7 348.3 1219.8 348.7 1242 349.5C1266 350.4 1292 351.8 1317 353.8C1342 355.7 1368.2 357.5 1392 361.2C1413.9 364.7 1436.5 369.5 1454.5 375C1468.8 379.4 1481.2 383.7 1492 390C1501.7 395.6 1509.2 401.8 1517 410C1526 419.6 1534.4 433.1 1542 445C1549.4 456.5 1555.9 468.5 1562 480C1567.8 490.8 1573.2 498.3 1578 512C1585.6 533.7 1592 563.1 1597 600"/><polygon points="1597,600 1590.5,587.5 1599.7,586.2"/>
<path d="M942.5 360.5C955.8 361.6 967.7 364.8 978 370C987.6 374.9 995.3 381.4 1003 390C1012.3 400.5 1021.7 415.8 1028 430C1034.2 444.1 1038.1 460.6 1040.5 475C1042.6 487.8 1042.9 497.5 1042.5 512C1041.9 532.7 1034.6 563.1 1034 587C1033.5 608.8 1034.7 629.3 1038 649.5C1041.2 669.2 1045.6 690.4 1053 707C1059.5 721.5 1068.6 732.9 1078 744.5C1087.4 756.1 1097.8 766.7 1109.2 776.5"/><polygon points="1109.2,776.5 1096.2,771.1 1102.5,764.1"/>
<path d="M964.3 412.5C986.5 414.1 1006.6 416.2 1024.5 419C1039.1 421.3 1051.2 423.7 1064 427C1076.4 430.2 1088.1 434.1 1100 438.6C1112.2 443.2 1124.4 448 1136.2 454.3C1148.6 460.8 1161.8 469.7 1172.5 477.3C1181.6 483.8 1189.3 490.1 1196.6 496.6C1203.2 502.5 1208.9 508.7 1214.7 514.7C1220.2 520.4 1225.6 525.1 1230.4 531.6C1235.8 538.9 1240.5 548.6 1245 557C1249.3 565.1 1253.3 571.9 1257 581C1261.5 592.3 1265.6 607.3 1269 620C1272.2 631.9 1274.6 643.7 1277 655C1279.2 665.6 1281.3 677.4 1283 686C1284.2 692.1 1285.3 697.3 1286.2 701.6"/><polygon points="1286.2,701.6 1278.9,689.5 1288.1,687.6"/>
<path d="M1133 322.2C1149.6 348.3 1164.4 374.2 1177.3 400C1189.4 424.3 1199.4 449.5 1208.7 472.5C1217 492.9 1224.6 512.8 1231 531C1236.5 546.6 1240.1 560.3 1245 575C1250 589.9 1256 605.4 1260.6 620C1264.9 633.7 1268.7 648.1 1272 660C1274.7 669.6 1276.9 678.4 1279 686C1280.7 691.9 1282.2 697.1 1283.6 701.6"/><polygon points="1283.6,701.6 1275.3,690.2 1284.3,687.5"/>
<path d="M1141.6 220.8C1154.5 229.8 1165.6 239.6 1175 250C1183.6 259.5 1189.8 268.5 1196.4 280.4C1204.5 295 1211.5 316.1 1218 332C1223.5 345.6 1228.6 358 1233 370C1236.8 380.5 1239.5 388.8 1243 400C1247.4 414.2 1253 432.1 1257 448.3C1260.9 464.3 1264 481.6 1266.7 496.6C1269.1 509.5 1270.8 519.9 1272.7 532.8C1274.9 547.7 1276.9 565.8 1278.7 581C1280.3 594.7 1281.8 606.9 1283 620C1284.2 633.2 1285.2 648.1 1286 660C1286.6 669.6 1287.2 678.4 1287.5 686C1287.8 691.9 1287.9 697.1 1288 701.6"/><polygon points="1288,701.6 1282.9,688.4 1292.3,688.2"/>
<path d="M1178 195.2C1199.4 191 1220.7 187.8 1242 185.5C1262.9 183.2 1283.7 181.4 1304.5 181.5C1325.3 181.6 1346.3 182.6 1367 186C1388 189.5 1410.2 195.2 1429.5 202.5C1447.5 209.3 1465.6 219 1479.5 227.5C1490.3 234.1 1499.5 239.5 1507 247.5C1514.4 255.4 1519.2 264.1 1524.5 275C1531.2 288.9 1536.4 307.3 1542 325C1548.2 344.6 1554.1 366.6 1559.5 387.5C1564.9 408.3 1570.2 429.1 1574.5 450C1578.7 470.6 1581.6 489.5 1585 512C1589.1 538.7 1593.1 568.1 1597 600"/><polygon points="1597,600 1590.7,587.4 1600,586.2"/>
<path d="M958.2 655.8C995.1 648.8 1035 640.9 1078 632C1128.4 621.6 1197.8 605.8 1242 597C1271.8 591.1 1291.9 586.2 1317 583.2C1341.9 580.4 1367 579.3 1392 579.5C1417 579.7 1444.6 582.1 1467 584.5C1485.4 586.5 1501.2 589.3 1517 592C1531.4 594.5 1545.2 597.1 1558.2 600"/><polygon points="1558.2,600 1544.3,601.8 1546.2,592.7"/>
<path d="M958.2 663.2L1079.2 663.2"/><polygon points="1079.2,663.2 1066,667.9 1066,658.6"/>
<path d="M958.2 672C989.5 679.6 1021.1 685.9 1053 690.8C1085 695.6 1116.3 697.7 1150 701.2C1186.7 705 1225 708.9 1264.9 712.8"/><polygon points="1264.9,712.8 1251.2,716.1 1252.1,706.9"/>
<path d="M958.2 667.5C977.2 670.4 992.1 676.9 1003 687C1013.2 696.4 1018.9 711.6 1023 724.5C1026.9 736.7 1025.8 750.3 1028 762C1030 772.6 1031.2 783.1 1035.5 792C1039.7 800.5 1045.5 808.6 1053 814.5C1061.1 820.9 1071.1 825.5 1083 828.2"/><polygon points="1083,828.2 1068.9,828.7 1071.7,819.8"/>
<path d="M958.2 667C976.7 669.6 991.6 675.5 1003 684.5C1013.4 692.7 1020.7 704.6 1025.5 717C1030.7 730.2 1031.3 746.6 1031.8 762C1032.3 778.2 1027.1 796.6 1028 812C1028.8 825.5 1031 838.3 1035.5 849.5C1039.6 859.8 1044.6 868.7 1053 877C1063.5 887.4 1078.1 896.4 1096.8 904"/><polygon points="1096.8,904 1082.7,902.8 1086.5,894.3"/>
<path d="M958.2 668C976.4 670.2 991.3 676.2 1003 685.8C1014.4 695.1 1022.6 711.2 1028 724.5C1032.9 736.6 1034.9 747.9 1035.5 762C1036.2 780.1 1029.2 804.8 1028 824.5C1027 842.1 1026 858 1028 874.5C1030.1 891.3 1033.9 909.5 1040.5 924.5C1046.7 938.5 1055.3 952.5 1065.5 962C1074.8 970.6 1085.6 976.7 1098 980.2"/><polygon points="1098,980.2 1083.9,979.9 1087.2,971.1"/>
<path d="M964.2 727L1093 775.8"/><polygon points="1093,775.8 1078.9,775.4 1082.2,766.7"/>
<path d="M954 756.5C970.6 752.3 986.9 746.7 1003 739.5C1019.9 732 1036.3 722.1 1053 712C1070.5 701.4 1088 689.7 1105.5 677"/><polygon points="1105.5,677 1097.4,688.5 1092,680.9"/>
<path d="M954 778L1083 827.5"/><polygon points="1083,827.5 1068.9,827.1 1072.3,818.4"/>
<path d="M935.5 778C951.5 791.2 965.6 805 978 819.5C989.6 833.1 1000.1 846.7 1008 862C1016 877.5 1018.4 896.9 1025.5 912C1032 925.8 1037.7 938.7 1048 949.5C1059.5 961.6 1074.5 971.6 1093 979.5"/><polygon points="1093,979.5 1079,978 1083,969.5"/>
<path d="M990.8 1009.5L1051 1002"/><polygon points="1051,1002 1038.4,1008.3 1037.2,999"/>
<path d="M888 1283.2C882.5 1278.9 880 1274.9 880.5 1271.5C881 1268.1 885.9 1264.9 890.5 1262.8C897.5 1259.5 911 1258.4 920.5 1258.5C929.2 1258.6 939.1 1259.9 945.5 1262.8C950.3 1264.9 956.1 1268 956.8 1271.5C957.4 1274.9 955.1 1278.8 949.8 1283.2"/><polygon points="949.8,1283.2 952.7,1269.5 960.7,1274.3"/>
<path d="M952 1491.5C968.4 1489.4 981.2 1485.2 990.5 1479C997.5 1474.3 1001.8 1468 1005.5 1461.5C1009.2 1455 1009.9 1449.8 1012.7 1440C1018.5 1419.5 1027.7 1375.1 1035.2 1344C1042.3 1314.5 1049.5 1286.7 1056.7 1258C1063.9 1229.3 1071.2 1199.7 1078.2 1172C1084.8 1146.1 1091.2 1120.8 1097.5 1096.7C1103.3 1074.3 1111.1 1048.8 1114.7 1032C1117 1021.5 1118.4 1012.8 1119 1006"/><polygon points="1119,1006 1121.8,1019.8 1112.6,1018.5"/>
<path d="M952 1493.5C972.9 1493.2 989.9 1489.2 1003 1481.5C1014.1 1475 1021.9 1461.8 1028 1454C1032.1 1448.7 1033.1 1445.4 1037.4 1440C1044.4 1431.3 1056 1417.9 1067.5 1408C1080.1 1397.1 1095.9 1387.3 1110.4 1378C1124.6 1368.9 1140.7 1362.7 1153.4 1352.5C1165.7 1342.6 1176.7 1330.4 1185.7 1318C1194.4 1306 1201.6 1293 1207 1279.4C1212.4 1265.8 1214.6 1251.6 1218 1236.4C1221.8 1219.5 1225.3 1202.2 1228.6 1182.7C1232.5 1159.8 1235.5 1134.8 1239.4 1107.5C1244 1074.9 1249 1038.8 1254.4 1000C1260.7 954.2 1269.5 897.5 1275 850C1280 807.2 1283.8 766.3 1286.5 727.5"/><polygon points="1286.5,727.5 1290.2,741.1 1280.9,740.4"/>
<path d="M952 1500.2C975.6 1501.8 1001 1501.8 1028 1500.2C1059.1 1498.5 1093.6 1493.6 1128 1489C1164.8 1484 1208.2 1478.6 1242 1471C1269.8 1464.7 1292.3 1458.3 1317 1449C1342.4 1439.4 1368.7 1427.6 1392 1414C1414.4 1400.8 1435.4 1385.2 1454.5 1369C1472.8 1353.5 1491.6 1336.2 1504.5 1319C1515.5 1304.4 1522.3 1290.6 1529.5 1274C1537.6 1255.2 1543.9 1234.3 1549.5 1211.5C1556 1185 1560 1154.2 1564.5 1124C1569.3 1091.8 1573.3 1062.5 1577 1024C1582 971.9 1586.3 895.4 1589.6 839.4C1592.4 792.6 1594.5 748.8 1596 710.4C1597.2 679.4 1597.9 651.3 1598.2 626.2"/><polygon points="1598.2,626.2 1602.7,639.6 1593.4,639.5"/>
<path d="M952 1503.5L1086.2 1524.8"/><polygon points="1086.2,1524.8 1072.4,1527.3 1073.8,1518.1"/>
<path d="M960.8 1649.8C994.8 1649.6 1025.5 1646.6 1053 1641C1076.1 1636.3 1096.5 1630.4 1115.5 1621C1133.8 1611.9 1151 1597.7 1165.5 1586C1177.9 1576 1190.8 1565.6 1198 1556C1203.1 1549.1 1205 1543.1 1208 1536C1211.2 1528.5 1213.9 1522.2 1216.6 1512C1221.1 1495.2 1225.2 1467.8 1229 1444C1233.1 1418 1236.6 1389.3 1240 1362C1243.4 1334.7 1245.9 1314.9 1249.4 1280C1255.5 1218.4 1265.5 1101.2 1270.8 1024C1275.1 960.5 1277.2 902.9 1280 850C1282.4 805.6 1284.5 764.8 1286.5 727.5"/><polygon points="1286.5,727.5 1290.5,741 1281.1,740.5"/>
<path d="M960.8 1661L1071.8 1688.5"/><polygon points="1071.8,1688.5 1057.7,1689.8 1060,1680.8"/>
<path d="M887.2 1965.4C883.9 1962.3 882.1 1959.3 881.8 1956.2C881.6 1953.3 882.9 1949.8 885 1947.6C887.7 1944.8 893.1 1943.4 897.9 1942.2C903.6 1940.8 910.8 1940.5 917.2 1940.7C923.7 1940.9 930.9 1941.8 936.6 1943.3C941.4 1944.6 946 1946.2 949.5 1948.6C952.6 1950.7 956.8 1953.4 957 1956.2C957.2 1959.2 954.6 1962.6 949.2 1966.2"/><polygon points="949.2,1966.2 952.8,1952.6 960.6,1957.9"/>
<path d="M935.5 1966.2C943.1 1960.5 950.6 1953.7 958 1946C966.4 1937.2 975.7 1927.4 983 1916C991 1903.5 998.1 1889.4 1003 1873.5C1008.7 1855 1010.7 1832.8 1013 1811C1015.5 1787.2 1015.8 1761 1016.8 1736C1017.7 1711 1018.2 1689.2 1018.5 1661C1018.9 1624.6 1018.3 1578.6 1018 1536C1017.7 1491.4 1017.1 1443.6 1016.8 1399C1016.4 1356.4 1016.2 1315.7 1016 1274C1015.8 1232.3 1015 1190.7 1015.5 1149C1016 1107.3 1017.3 1066.6 1019.2 1024C1021.3 979.4 1022.7 921.2 1028 887C1031.3 866 1035.3 850.1 1040.5 837C1044.2 827.7 1047.6 820.9 1053 814.5C1058.3 808.2 1064.8 803.1 1072.5 799"/><polygon points="1072.5,799 1064,810.2 1058.8,802.4"/>
<path d="M948 1966.2C979.5 1948.9 1006.2 1932.2 1028 1916C1044.7 1903.7 1056.1 1892.8 1069.6 1880C1083.6 1866.7 1096.8 1852.5 1110.4 1837.6C1124.7 1821.9 1141.8 1802.7 1153.4 1788C1162.1 1777 1168 1768.5 1175 1758C1182.3 1747.1 1191.7 1734.7 1196.4 1723.7C1200.2 1714.8 1201 1707.7 1203 1698C1205.5 1685.6 1207.2 1671.8 1209.3 1655C1212.2 1631.3 1215 1596.7 1218 1569C1220.8 1543.1 1224 1516.7 1226.5 1493.7C1228.6 1474.3 1229.9 1462.7 1232 1440C1235.5 1400.9 1239.9 1339.6 1244.6 1280C1250.5 1204.6 1258.7 1101.1 1264.5 1024C1269.3 960.4 1273 902.9 1277 850C1280.3 805.6 1283.5 764.8 1286.5 727.5"/><polygon points="1286.5,727.5 1290.1,741.1 1280.8,740.4"/>
<path d="M971.8 1966.2L1071.8 1941"/><polygon points="1071.8,1941 1060,1948.8 1057.7,1939.7"/>
<path d="M973.8 1978.5L1066.2 1978.5"/><polygon points="1066.2,1978.5 1053,1983.2 1053,1973.8"/>
<path d="M971.8 1991L1075.5 2016.5"/><polygon points="1075.5,2016.5 1061.5,2017.9 1063.7,2008.8"/>
<path d="M1165.5 676.5L1264.9 706.7"/><polygon points="1264.9,706.7 1250.8,707.3 1253.5,698.4"/>
<path d="M1096.8 776.5C1093.4 772.1 1092.1 768.1 1093 764.5C1093.9 760.7 1098.6 756.7 1103 754.5C1108.2 751.9 1116.1 751.4 1123 751.5C1130.3 751.6 1139.8 753 1145.5 755.8C1149.9 757.9 1154.7 761 1155.5 764.5C1156.3 767.9 1154.6 771.9 1150.5 776.5"/><polygon points="1150.5,776.5 1150.9,762.4 1159.7,765.8"/>
<path d="M1153 776.5C1192.5 758.3 1222.1 744.7 1242 735.8C1252 731.3 1259.5 727.9 1264.5 725.8"/><polygon points="1264.5,725.8 1254.2,735.4 1250.4,726.8"/>
<path d="M1164.8 830C1175.7 826.6 1186.2 821.6 1196.4 815C1207.6 807.7 1219.2 796.2 1228.6 787C1236.7 779 1242.4 772.1 1250 763.3C1259.2 752.7 1269 740.8 1279.5 727.5"/><polygon points="1279.5,727.5 1274.8,740.8 1267.5,735"/>
<path d="M1265.8 702C1262.3 698.6 1260.6 695.3 1260.8 692C1260.9 688.6 1263.6 684.4 1267 682C1271.4 678.8 1280.1 677.1 1287 677C1294.3 676.9 1304.2 679.5 1309.5 682C1312.9 683.6 1316.1 685.2 1317 688C1318.1 691.4 1316.9 696.1 1313.2 702"/><polygon points="1313.2,702 1312.7,687.9 1321.7,690.7"/>
<path d="M1314 702C1330.4 687.7 1348.1 674.4 1367 662C1386.9 649 1408.1 637.1 1430.8 626.2"/><polygon points="1430.8,626.2 1420.9,636.3 1416.8,628"/>
<path d="M1314.2 721.5C1325 722.7 1335.9 723.6 1347 724C1358.3 724.4 1369.8 724.4 1381.5 724"/><polygon points="1381.5,724 1368.3,729 1368.1,719.6"/>
<path d="M1393.2 626C1379.9 633.8 1367 642.4 1354.5 652C1341.6 661.9 1327.1 675.5 1317 684.5C1310 690.8 1304.2 696.2 1299.5 700.8"/><polygon points="1299.5,700.8 1306,688.2 1312.4,695"/>
<path d="M1381.5 705.8C1369.8 704.7 1358.3 704.3 1347 704.5C1335.9 704.7 1325 705.6 1314.2 707"/><polygon points="1314.2,707 1327,700.9 1328,710.2"/>
<path d="M1468.2 702L1582 626.2"/><polygon points="1582,626.2 1573.5,637.5 1568.3,629.7"/>
<path d="M1559.5 626.2L1314.2 704.5"/><polygon points="1314.2,704.5 1325.5,696 1328.3,704.9"/>
<path d="M1332.8 1338.5C1352.6 1333.8 1372.3 1327.3 1392 1319C1412.9 1310.2 1436.9 1298.5 1454.5 1286.5C1469.3 1276.5 1481.6 1266.5 1492 1254C1502.4 1241.5 1509.9 1227.5 1517 1211.5C1525.2 1193.1 1531.1 1169.9 1537 1149C1542.8 1128.3 1547.6 1107.4 1552 1086.5C1556.4 1065.7 1559.5 1050.4 1563.2 1024C1569.7 978.8 1577.6 895.5 1583 839.4C1587.5 792.6 1591.4 748.8 1594 710.4C1596.1 679.4 1597.5 651.3 1598.2 626.2"/><polygon points="1598.2,626.2 1602.5,639.7 1593.1,639.4"/>
</g>
</svg></body></html>
